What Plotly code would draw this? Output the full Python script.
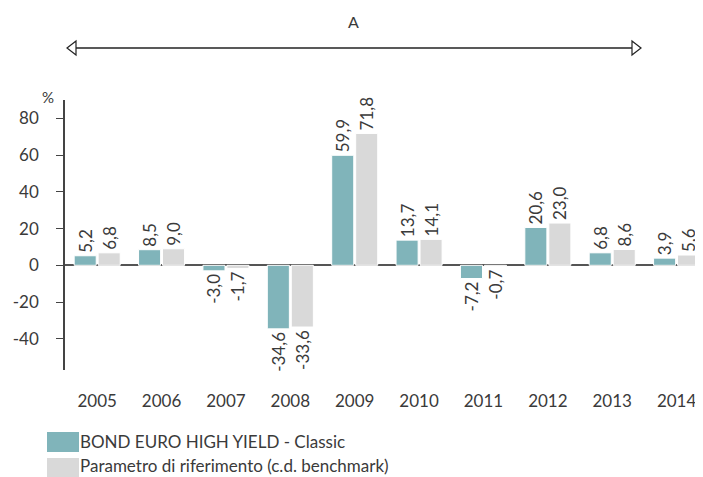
import plotly.graph_objects as go

years = ["2005", "2006", "2007", "2008", "2009", "2010", "2011", "2012", "2013", "2014"]
fund = [5.2, 8.5, -3.0, -34.6, 59.9, 13.7, -7.2, 20.6, 6.8, 3.9]
bench = [6.8, 9.0, -1.7, -33.6, 71.8, 14.1, -0.7, 23.0, 8.6, 5.6]
series_names = ["BOND EURO HIGH YIELD - Classic", "Parametro di riferimento (c.d. benchmark)"]
colors = ["#80B4BA", "#D9D9D9"]
y_ticks = [-40, -20, 0, 20, 40, 60, 80]
y_tick_labels = [str(v) for v in y_ticks]

FONT = "Lato, 'Open Sans', sans-serif"
TXT = "#3a3a3a"

def fmt(v):
    return f"{v:.1f}".replace(".", ",")

fig = go.Figure()
for name, vals, col in zip(series_names, [fund, bench], colors):
    fig.add_trace(go.Bar(
        x=years, y=vals, name=name,
        marker=dict(color=col, line=dict(color="white", width=1)),
        text=[fmt(v) for v in vals],
        textposition="outside", textangle=-90,
        textfont=dict(family=FONT, size=17, color=TXT),
        constraintext="none", cliponaxis=False,
    ))

OFF = 8  # page body margin
W, H = 703 - OFF, 477 - OFF
L, R, T = 65 - OFF, 0, 100 - OFF
B = H - (370 - OFF)
pw, ph = W - L - R, H - T - B

def px(x):
    return (x - OFF - L) / pw

def py(y):
    return (H - B - (y - OFF)) / ph

shapes = []
shapes.append(dict(type="line", xref="paper", yref="paper",
                   x0=px(68), x1=px(640), y0=py(48), y1=py(48),
                   line=dict(color="#222", width=1.5)))
for tip, back in [(67, 76), (641, 632)]:
    path = (f"M {px(tip)} {py(48)} L {px(back)} {py(41)} "
            f"L {px(back)} {py(55)} Z")
    shapes.append(dict(type="path", xref="paper", yref="paper", path=path,
                       fillcolor="white", line=dict(color="#222", width=1.2)))
for i, col in enumerate(colors):
    y0 = 432 + i * 26
    shapes.append(dict(type="rect", xref="paper", yref="paper",
                       x0=px(47), x1=px(79), y0=py(y0), y1=py(y0 + 20),
                       fillcolor=col, line=dict(width=0)))

annotations = [
    dict(text="A", xref="paper", yref="paper", x=px(353), y=py(22),
         xanchor="center", yanchor="middle", showarrow=False,
         font=dict(family=FONT, size=16, color=TXT)),
    dict(text="%", xref="paper", yref="paper", x=px(48), y=py(97),
         xanchor="center", yanchor="middle", showarrow=False,
         font=dict(family=FONT, size=15, color=TXT)),
]
for i, name in enumerate(series_names):
    annotations.append(dict(text=name, xref="paper", yref="paper",
                            x=px(78), y=py(441 + i * 24),
                            xanchor="left", yanchor="middle",
                            showarrow=False,
                            font=dict(family=FONT, size=17, color=TXT)))

fig.update_layout(
    width=W, height=H,
    margin=dict(l=L, r=R, t=T, b=B),
    paper_bgcolor="white", plot_bgcolor="white",
    barmode="group", bargap=0.255, bargroupgap=0.08,
    showlegend=False,
    font=dict(family=FONT, color=TXT),
    shapes=shapes, annotations=annotations,
    xaxis=dict(range=[-0.5, 9.41], showgrid=False, showline=False,
               ticks="outside", ticklen=16, tickcolor="rgba(0,0,0,0)",
               tickfont=dict(family=FONT, size=17, color=TXT)),
    yaxis=dict(range=[-57, 90], tickvals=y_ticks, ticktext=y_tick_labels,
               showgrid=False,
               showline=True, linecolor="#444", linewidth=1.5,
               ticks="outside", ticklen=7, tickcolor="#444",
               ticklabelstandoff=14,
               zeroline=True, zerolinecolor="#555", zerolinewidth=2,
               tickfont=dict(family=FONT, size=17, color=TXT)),
)

fig.write_html("out.html")
